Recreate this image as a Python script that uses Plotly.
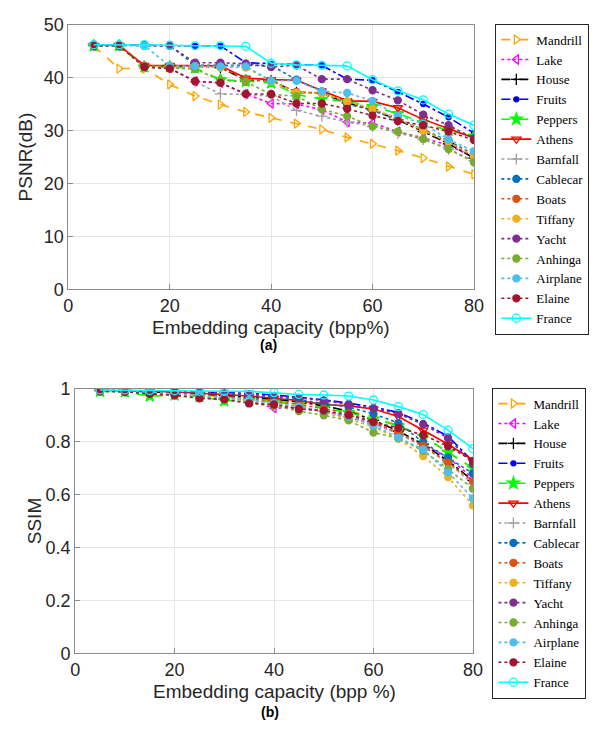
import plotly.graph_objects as go

# Embedding capacity (bpp %)
capacity = [5, 10, 15, 20, 25, 30, 35, 40, 45, 50, 55, 60, 65, 70, 75, 80]

names = ["Mandrill", "Lake", "House", "Fruits", "Peppers", "Athens", "Barnfall",
         "Cablecar", "Boats", "Tiffany", "Yacht", "Anhinga", "Airplane", "Elaine", "France"]

# PSNR (dB) per test image
psnr_mandrill = [46.0, 41.7, 41.7, 38.7, 36.5, 34.9, 33.5, 32.4, 31.3, 30.2, 28.7, 27.5, 26.2, 24.8, 23.2, 21.7]
psnr_lake     = [46.0, 46.0, 42.0, 41.8, 39.3, 39.0, 36.9, 35.1, 35.0, 33.9, 31.6, 31.4, 29.8, 28.6, 27.2, 25.0]
psnr_house    = [46.1, 46.1, 42.1, 42.1, 42.0, 41.9, 39.5, 39.4, 37.2, 37.0, 35.2, 33.9, 32.0, 29.8, 27.5, 24.8]
psnr_fruits   = [46.2, 46.2, 46.1, 46.0, 46.0, 46.0, 42.8, 42.6, 42.4, 42.3, 39.7, 39.5, 37.3, 35.0, 32.5, 29.5]
psnr_peppers  = [46.0, 46.0, 42.0, 42.0, 41.8, 39.6, 39.3, 39.0, 36.8, 35.9, 35.5, 34.5, 33.2, 31.5, 30.0, 28.9]
psnr_athens   = [46.1, 46.1, 42.3, 42.3, 42.3, 42.2, 39.9, 39.6, 39.5, 37.5, 35.6, 35.5, 34.3, 32.1, 30.3, 28.6]
psnr_barnfall = [46.0, 46.0, 42.0, 41.8, 39.2, 36.9, 36.8, 36.5, 33.8, 32.7, 31.6, 30.8, 29.5, 28.3, 26.5, 24.3]
psnr_cablecar = [46.1, 46.1, 46.0, 46.0, 42.3, 42.3, 42.2, 42.3, 39.6, 37.4, 35.0, 33.8, 32.0, 30.2, 28.0, 25.5]
psnr_boats    = [46.1, 46.1, 42.2, 42.2, 42.2, 42.0, 39.6, 39.4, 37.3, 37.1, 35.3, 34.0, 32.3, 30.0, 27.8, 25.0]
psnr_tiffany  = [46.1, 46.1, 42.0, 42.0, 42.0, 41.9, 41.9, 39.3, 37.1, 37.0, 35.5, 34.1, 32.2, 30.0, 27.8, 25.2]
psnr_yacht    = [46.2, 46.1, 46.1, 46.0, 42.8, 42.8, 42.6, 42.0, 42.3, 39.7, 39.7, 37.6, 35.7, 33.0, 31.0, 28.5]
psnr_anhinga  = [46.0, 46.0, 42.0, 41.8, 41.6, 39.5, 39.2, 36.8, 36.5, 34.0, 32.7, 30.8, 29.8, 28.4, 26.5, 24.0]
psnr_airplane = [46.1, 46.1, 46.0, 42.2, 42.2, 42.1, 42.1, 39.4, 39.4, 37.4, 37.1, 35.6, 32.8, 31.3, 28.3, 26.1]
psnr_elaine   = [46.0, 46.0, 42.0, 41.7, 39.3, 39.0, 36.9, 36.9, 35.1, 35.1, 34.1, 32.8, 31.8, 31.0, 29.8, 28.2]
psnr_france   = [46.2, 46.2, 46.2, 46.1, 46.0, 46.0, 45.9, 42.7, 42.4, 42.3, 42.2, 39.6, 37.5, 35.8, 33.1, 31.0]

# SSIM per test image
ssim_mandrill = [0.995, 0.993, 0.990, 0.980, 0.975, 0.970, 0.960, 0.955, 0.945, 0.935, 0.915, 0.895, 0.860, 0.820, 0.758, 0.700]
ssim_lake     = [0.992, 0.990, 0.985, 0.980, 0.975, 0.968, 0.955, 0.926, 0.930, 0.915, 0.890, 0.870, 0.830, 0.790, 0.740, 0.662]
ssim_house    = [0.993, 0.992, 0.988, 0.985, 0.980, 0.975, 0.968, 0.960, 0.950, 0.935, 0.915, 0.880, 0.840, 0.790, 0.727, 0.653]
ssim_fruits   = [0.994, 0.993, 0.992, 0.990, 0.987, 0.985, 0.982, 0.976, 0.968, 0.958, 0.945, 0.930, 0.910, 0.870, 0.820, 0.725]
ssim_peppers  = [0.990, 0.988, 0.972, 0.975, 0.970, 0.954, 0.955, 0.950, 0.940, 0.925, 0.910, 0.885, 0.860, 0.820, 0.760, 0.700]
ssim_athens   = [0.993, 0.992, 0.990, 0.987, 0.983, 0.978, 0.972, 0.963, 0.955, 0.940, 0.935, 0.923, 0.895, 0.843, 0.790, 0.730]
ssim_barnfall = [0.992, 0.990, 0.985, 0.980, 0.973, 0.965, 0.955, 0.945, 0.932, 0.915, 0.895, 0.865, 0.830, 0.780, 0.720, 0.640]
ssim_cablecar = [0.994, 0.993, 0.990, 0.988, 0.985, 0.980, 0.975, 0.968, 0.958, 0.945, 0.930, 0.905, 0.870, 0.797, 0.740, 0.680]
ssim_boats    = [0.993, 0.990, 0.987, 0.983, 0.977, 0.970, 0.962, 0.952, 0.940, 0.925, 0.905, 0.875, 0.835, 0.785, 0.720, 0.650]
ssim_tiffany  = [0.992, 0.990, 0.985, 0.980, 0.973, 0.965, 0.955, 0.945, 0.930, 0.910, 0.885, 0.855, 0.810, 0.745, 0.666, 0.559]
ssim_yacht    = [0.993, 0.992, 0.990, 0.988, 0.985, 0.982, 0.978, 0.972, 0.965, 0.955, 0.940, 0.925, 0.905, 0.865, 0.813, 0.715]
ssim_anhinga  = [0.990, 0.988, 0.982, 0.976, 0.968, 0.958, 0.948, 0.935, 0.915, 0.899, 0.880, 0.834, 0.813, 0.765, 0.696, 0.622]
ssim_airplane = [0.993, 0.991, 0.986, 0.980, 0.974, 0.966, 0.957, 0.946, 0.932, 0.915, 0.895, 0.860, 0.815, 0.770, 0.684, 0.585]
ssim_elaine   = [0.990, 0.988, 0.980, 0.975, 0.963, 0.960, 0.944, 0.940, 0.923, 0.917, 0.900, 0.874, 0.852, 0.825, 0.782, 0.727]
ssim_france   = [0.995, 0.995, 0.993, 0.992, 0.990, 0.990, 0.990, 0.985, 0.978, 0.976, 0.972, 0.957, 0.932, 0.902, 0.843, 0.773]

psnr_series = [psnr_mandrill, psnr_lake, psnr_house, psnr_fruits, psnr_peppers, psnr_athens,
               psnr_barnfall, psnr_cablecar, psnr_boats, psnr_tiffany, psnr_yacht, psnr_anhinga,
               psnr_airplane, psnr_elaine, psnr_france]
ssim_series = [ssim_mandrill, ssim_lake, ssim_house, ssim_fruits, ssim_peppers, ssim_athens,
               ssim_barnfall, ssim_cablecar, ssim_boats, ssim_tiffany, ssim_yacht, ssim_anhinga,
               ssim_airplane, ssim_elaine, ssim_france]

# line colour, dash, marker symbol, marker size
styles = [
    ("#FFA500", "dash", "triangle-right-open", 8),
    ("#FF00FF", "dot", "triangle-left-open", 8),
    ("#000000", "dashdot", "cross-thin-open", 8),
    ("#0000FF", "dashdot", "circle", 5),
    ("#00FF00", "dash", "star", 9),
    ("#FF0000", "solid", "triangle-down-open", 8),
    ("#A0A0A0", "dot", "cross-thin-open", 8),
    ("#0072BD", "dot", "circle", 7),
    ("#D95319", "dot", "circle", 7),
    ("#EDB120", "dot", "circle", 7),
    ("#7E2F8E", "dot", "circle", 7),
    ("#77AC30", "dot", "circle", 7),
    ("#4DBEEE", "dot", "circle", 7),
    ("#A2142F", "dot", "circle", 7),
    ("#00FFFF", "solid", "circle-open", 8),
]

W, H = 596, 750
fig = go.Figure()

for name, ys, (col, dash, sym, size) in zip(names, psnr_series, styles):
    fig.add_trace(go.Scatter(
        x=capacity, y=ys, name=name, mode="lines+markers",
        line=dict(color=col, dash=dash, width=1.6),
        marker=dict(symbol=sym, size=size, color=col, line=dict(color=col, width=1.3)),
        xaxis="x", yaxis="y", legend="legend"))

for name, ys, (col, dash, sym, size) in zip(names, ssim_series, styles):
    fig.add_trace(go.Scatter(
        x=capacity, y=ys, name=name, mode="lines+markers",
        line=dict(color=col, dash=dash, width=1.6),
        marker=dict(symbol=sym, size=size, color=col, line=dict(color=col, width=1.3)),
        xaxis="x2", yaxis="y2", legend="legend2"))

axis_common = dict(
    showline=True, mirror=True, linecolor="#8c8c8c", linewidth=1,
    ticks="inside", ticklen=5, tickcolor="#8c8c8c",
    showgrid=True, gridcolor="#e6e6e6", gridwidth=1, zeroline=False,
    tickfont=dict(family="Liberation Sans", size=18, color="#262626"),
)

legend_common = dict(
    bgcolor="white", bordercolor="#262626", borderwidth=1,
    font=dict(family="Liberation Serif, Times New Roman, serif", size=13, color="#000000"),
    xanchor="left", yanchor="top", tracegroupgap=0,
)

fig.update_layout(
    width=W, height=H,
    margin=dict(l=0, r=0, t=0, b=0),
    paper_bgcolor="white", plot_bgcolor="white",
    xaxis=dict(domain=[65 / W, 481 / W], range=[0, 80], dtick=20, anchor="y", **axis_common),
    yaxis=dict(domain=[1 - 287 / H, 1 - 15 / H], range=[0, 50], dtick=10, anchor="x", **axis_common),
    xaxis2=dict(domain=[72 / W, 480 / W], range=[0, 80], dtick=20, anchor="y2", **axis_common),
    yaxis2=dict(domain=[1 - 661 / H, 1 - 389 / H], range=[0, 1],
                tickvals=[0, 0.2, 0.4, 0.6, 0.8, 1], ticktext=["0", "0.2", "0.4", "0.6", "0.8", "1"],
                anchor="x2", **axis_common),
    legend=dict(x=503 / W, y=1 - 14 / H, **legend_common),
    legend2=dict(x=500 / W, y=1 - 388 / H, **legend_common),
    showlegend=True,
)

title_font = dict(family="Liberation Sans", size=19, color="#262626")
caption_font = dict(family="Liberation Sans", size=14, color="#000000")

annotations = [
    dict(text="Embedding capacity (bpp%)", x=273 / W, y=1 - 326 / H, font=title_font),
    dict(text="<b>(a)</b>", x=270 / W, y=1 - 344 / H, font=caption_font),
    dict(text="PSNR(dB)", x=22 / W, y=1 - 151 / H, textangle=-90, font=title_font),
    dict(text="Embedding capacity (bpp %)", x=276 / W, y=1 - 700 / H, font=title_font),
    dict(text="<b>(b)</b>", x=272 / W, y=1 - 721 / H, font=caption_font),
    dict(text="SSIM", x=30 / W, y=1 - 525 / H, textangle=-90, font=title_font),
]
for a in annotations:
    fig.add_annotation(xref="paper", yref="paper", showarrow=False,
                       xanchor="center", yanchor="middle", **a)

fig.write_html("out.html")
